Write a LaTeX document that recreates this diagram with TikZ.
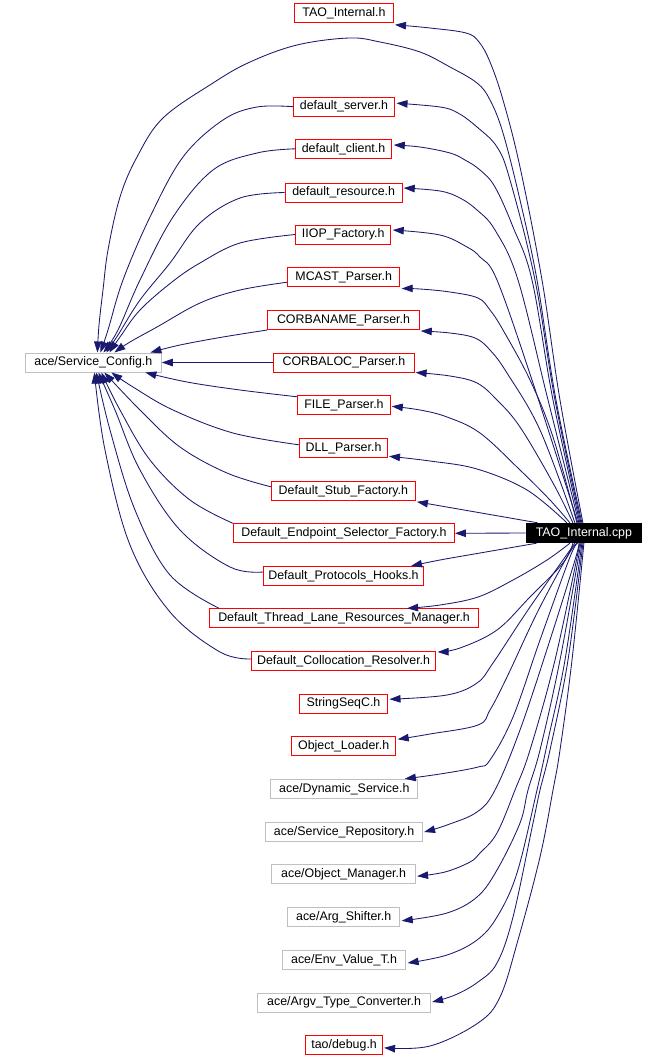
\documentclass[tikz,border=0pt]{standalone}
\usepackage{fontspec}
\setmainfont{Liberation Sans}
\usetikzlibrary{arrows.meta}
\definecolor{edgeblue}{HTML}{191970}
\definecolor{boxred}{HTML}{FF0000}
\definecolor{boxgray}{HTML}{BFBFBF}
\begin{document}
\begin{tikzpicture}[x=1pt,y=-1pt,
  box/.style={draw, line width=1pt, minimum height=19pt, inner sep=0pt, font=\fontsize{12.4}{14}\selectfont, fill=white},
  redbox/.style={box, draw=boxred},
  graybox/.style={box, draw=boxgray},
  cppbox/.style={box, draw=black, fill=black, text=white},
  edge/.style={draw=edgeblue, line width=0.85pt, -{Triangle[length=11pt,width=7.5pt]}},
  sm/.style={smooth, tension=0.6}]
\fill[white] (0,0) rectangle (665,1057);
\useasboundingbox (0,0) rectangle (665,1057);

\node[redbox, minimum width=99pt] (tao_h) at (344,12.8) {TAO\_Internal.h};
\node[redbox, minimum width=101pt] (dserver) at (344,106.7) {default\_server.h};
\node[redbox, minimum width=95.5pt] (dclient) at (343.5,148.8) {default\_client.h};
\node[redbox, minimum width=117pt] (dres) at (343.7,192.5) {default\_resource.h};
\node[redbox, minimum width=95pt] (iiop) at (343.2,234.5) {IIOP\_Factory.h};
\node[redbox, minimum width=112pt] (mcast) at (343.7,277.2) {MCAST\_Parser.h};
\node[redbox, minimum width=151.5pt] (cname) at (343.5,320) {CORBANAME\_Parser.h};
\node[redbox, minimum width=140.4pt] (cloc) at (343.9,362.5) {CORBALOC\_Parser.h};
\node[redbox, minimum width=92.5pt] (file) at (344,404.8) {FILE\_Parser.h};
\node[redbox, minimum width=88pt] (dll) at (343.5,447.8) {DLL\_Parser.h};
\node[redbox, minimum width=144pt] (stub) at (343.4,490.8) {Default\_Stub\_Factory.h};
\node[redbox, minimum width=221pt] (endp) at (343.9,533.3) {Default\_Endpoint\_Selector\_Factory.h};
\node[redbox, minimum width=160pt] (proto) at (343.5,576) {Default\_Protocols\_Hooks.h};
\node[redbox, minimum width=269pt] (thread) at (344.1,618.3) {Default\_Thread\_Lane\_Resources\_Manager.h};
\node[redbox, minimum width=184pt] (colloc) at (343.6,661) {Default\_Collocation\_Resolver.h};
\node[redbox, minimum width=88pt] (sseq) at (343.5,703.7) {StringSeqC.h};
\node[redbox, minimum width=104pt] (oload) at (343.7,746.3) {Object\_Loader.h};
\node[graybox, minimum width=147pt] (dyn) at (344.3,788.8) {ace/Dynamic\_Service.h};
\node[graybox, minimum width=157pt] (srep) at (344.1,832) {ace/Service\_Repository.h};
\node[graybox, minimum width=144pt] (omgr) at (343.6,874.2) {ace/Object\_Manager.h};
\node[graybox, minimum width=112pt] (args) at (343.7,916.8) {ace/Arg\_Shifter.h};
\node[graybox, minimum width=123pt] (env) at (344.1,960) {ace/Env\_Value\_T.h};
\node[graybox, minimum width=173pt] (argv) at (344.1,1002.5) {ace/Argv\_Type\_Converter.h};
\node[redbox, minimum width=77pt] (debug) at (344.1,1044.8) {tao/debug.h};
\node[graybox, minimum width=135.7pt] (sc) at (93.4,362.5) {ace/Service\_Config.h};
\node[cppbox, minimum width=115.7pt, minimum height=19.4pt] (cpp) at (583.9,533) {TAO\_Internal.cpp};

% ---- from TAO_Internal.cpp, upwards ----
\draw[edge] plot[sm] coordinates {([xshift=-1pt]cpp.north) (560,400) (542,280) (520,167) (503,100) (490,62) (479,42) (466,33) (430,28) ([shift={(1,2)}]tao_h.south east)};
\draw[edge] plot[sm] coordinates {([xshift=-2pt]cpp.north) (556,400) (537,280) (520,200) (503,133) (490,100) (477,83) (450,67) (420,52) (380,42) (349,38) (297,45) (250,62) (213,83) (163,118) (137,157) (120,197) (108,250) (103,290) (99,325) ([xshift=4pt]sc.north)};
\draw[edge] plot[sm] coordinates {([xshift=-3pt]cpp.north) (555,400) (535,280) (510,180) (497,147) (477,127) (458,113) (440,107) ([shift={(1.5,-3.5)}]dserver.east)};
\draw[edge] plot[sm] coordinates {([xshift=-4pt]cpp.north) (553,400) (532,280) (513,227) (495,187) (480,170) (465,160) (450,153) (420,147) ([shift={(2,-3.8)}]dclient.east)};
\draw[edge] plot[sm] coordinates {([xshift=-5pt]cpp.north) (548,400) (518,280) (495,230) (477,210) (460,198) (440,191) ([shift={(1,-4.5)}]dres.east)};
\draw[edge] plot[sm] coordinates {([xshift=-6pt]cpp.north) (532,380) (497,280) (480,257) (467,247) (440,235) ([shift={(1.5,-4.5)}]iiop.east)};
\draw[edge] plot[sm] coordinates {([xshift=-7pt]cpp.north) (553,437) (530,380) (503,330) (490,310) (478,298) (450,292) (420,289) ([shift={(1.5,1.3)}]mcast.south east)};
\draw[edge] plot[sm] coordinates {([xshift=-9pt]cpp.north) (540,430) (507,373) (490,350) (475,338) (450,333) ([shift={(1,1)}]cname.south east)};
\draw[edge] plot[sm] coordinates {([xshift=-11pt]cpp.north) (553,483) (520,427) (497,400) (477,383) (450,376) ([shift={(1,0)}]cloc.south east)};
\draw[edge] plot[sm] coordinates {([xshift=-14pt]cpp.north) (550,500) (520,470) (480,433) (447,417) (420,410) ([shift={(1,1.5)}]file.east)};
\draw[edge] plot[sm] coordinates {([xshift=-17pt]cpp.north) (527,490) (477,469) (430,461) ([shift={(1,-1.5)}]dll.south east)};
\draw[edge] ([xshift=12pt]cpp.north west) -- ([shift={(1,1)}]stub.south east);
\draw[edge] (cpp.west) -- (endp.east);

% ---- from TAO_Internal.cpp, downwards ----
\draw[edge] plot[sm] coordinates {([xshift=11pt]cpp.south west) (480,553) (440,560) ([shift={(-13,0)}]proto.north east)};
\draw[edge] plot[sm] coordinates {([xshift=-14pt]cpp.south) (547,560) (513,580) (478,597) (440,605) ([shift={(-72,0)}]thread.north east)};
\draw[edge] plot[sm] coordinates {([xshift=-11pt]cpp.south) (563,563) (530,597) (497,630) (460,648) ([shift={(1.5,1)}]colloc.north east)};
\draw[edge] plot[sm] coordinates {([xshift=-9pt]cpp.south) (530,607) (493,663) (477,683) (447,695) ([shift={(1.5,-4.5)}]sseq.east)};
\draw[edge] plot[sm] coordinates {([xshift=-7pt]cpp.south) (567,557) (537,613) (507,677) (490,710) (478,725) (430,734) ([shift={(1.5,-7)}]oload.east)};
\draw[edge] plot[sm] coordinates {([xshift=-6pt]cpp.south) (570,557) (540,640) (513,717) (490,760) (478,767) (440,774) ([shift={(-13.5,0)}]dyn.north east)};
\draw[edge] plot[sm] coordinates {([xshift=-5pt]cpp.south) (575,560) (550,640) (520,730) (495,790) (477,812) (447,825) ([shift={(1,0)}]srep.east)};
\draw[edge] plot[sm] coordinates {([xshift=-4pt]cpp.south) (555,660) (530,750) (515,790) (497,833) (480,853) (470,862) (445,872) ([shift={(1,2)}]omgr.east)};
\draw[edge] plot[sm] coordinates {([xshift=-3pt]cpp.south) (560,660) (540,750) (528,790) (520,823) (497,870) (477,897) (447,913) ([shift={(1.5,4)}]args.east)};
\draw[edge] plot[sm] coordinates {([xshift=-2pt]cpp.south) (565,660) (548,740) (537,790) (517,873) (497,917) (477,940) (447,955) ([shift={(1.5,3)}]env.east)};
\draw[edge] plot[sm] coordinates {([xshift=-1pt]cpp.south) (568,660) (550,750) (540,790) (533,823) (513,917) (497,963) (478,982) (455,995) ([shift={(1,-0.5)}]argv.east)};
\draw[edge] plot[sm] coordinates {([xshift=0pt]cpp.south) (572,660) (560,750) (553,790) (540,857) (518,940) (500,997) (478,1023) (430,1046) ([shift={(1,3)}]debug.east)};

% ---- into ace/Service_Config.h ----
\draw[edge] plot[sm] coordinates {(dserver.west) (257,107) (223,120) (183,157) (150,217) (123,280) (108,330) ([xshift=7pt]sc.north)};
\draw[edge] plot[sm] coordinates {(dclient.west) (257,153) (213,170) (173,217) (140,280) (118,330) ([xshift=10pt]sc.north)};
\draw[edge] plot[sm] coordinates {(dres.west) (240,198) (200,223) (170,263) (140,300) (118,335) ([xshift=13pt]sc.north)};
\draw[edge] plot[sm] coordinates {(iiop.west) (240,243) (200,263) (172,282) (140,310) (120,337) ([xshift=16pt]sc.north)};
\draw[edge] plot[sm] coordinates {([shift={(0,5)}]mcast.west) (240,290) (200,303) (157,327) (130,342) ([xshift=21pt]sc.north)};
\draw[edge] plot[sm] coordinates {(cname.south west) (223,337) (180,345) ([xshift=57pt]sc.north)};
\draw[edge] (cloc.west) -- (sc.east);
\draw[edge] plot[sm] coordinates {([shift={(0,2)}]file.north west) (240,390) (187,382) ([xshift=52pt]sc.south)};
\draw[edge] plot[sm] coordinates {([shift={(0,-3)}]dll.west) (233,433) (173,410) (133,387) ([xshift=18pt]sc.south)};
\draw[edge] plot[sm] coordinates {([shift={(0,-4)}]stub.west) (227,473) (180,447) (140,410) ([xshift=11pt]sc.south)};
\draw[edge] plot[sm] coordinates {(endp.north west) (190,500) (150,460) (120,410) ([xshift=8pt]sc.south)};
\draw[edge] plot[sm] coordinates {([shift={(0,-4)}]proto.west) (230,567) (180,530) (140,470) (115,410) ([xshift=5pt]sc.south)};
\draw[edge] plot[sm] coordinates {([shift={(10,0)}]thread.north west) (170,575) (135,510) (110,430) ([xshift=3pt]sc.south)};
\draw[edge] plot[sm] coordinates {([shift={(0,-2)}]colloc.west) (220,652) (170,612) (130,545) (105,450) ([xshift=1pt]sc.south)};
\end{tikzpicture}
\end{document}
